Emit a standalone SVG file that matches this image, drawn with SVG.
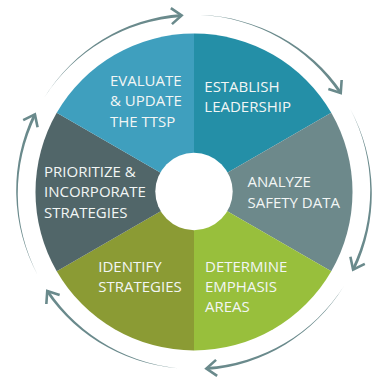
<svg xmlns="http://www.w3.org/2000/svg" xmlns:xlink="http://www.w3.org/1999/xlink" width="373" height="377" viewBox="0 0 373 377">
<style>
.lbl{font-family:"Open Sans","Liberation Sans",sans-serif;font-size:15px;fill:#f2f6f5}
.arc{fill:#6a8a8c}
.head{fill:none;stroke:#6a8a8c;stroke-width:2.6;stroke-linejoin:miter}
</style>
<defs>
<g id="arrow">
<path class="arc" d="M -150.1 -93.8 A 177.75 177.75 0 0 1 -12.45 -178.06 L -12.24 -175.07 A 176.25 176.25 0 0 0 -150.1 -93.8 Z"/>
<path class="head" d="M -23.15 -183.87 L -12.35 -176.57 L -22.05 -167.87"/>
</g>
</defs>
<rect width="373" height="377" fill="#ffffff"/>
<g id="connectors">
<use xlink:href="#arrow" transform="translate(194 192) rotate(0)"/>
<use xlink:href="#arrow" transform="translate(194 192) rotate(60)"/>
<use xlink:href="#arrow" transform="translate(194 192) rotate(120)"/>
<use xlink:href="#arrow" transform="translate(194 192) rotate(180)"/>
<use xlink:href="#arrow" transform="translate(194 192) rotate(240)"/>
<use xlink:href="#arrow" transform="translate(194 192) rotate(300)"/>
</g>
<g id="establish">
<path d="M194 192 L194 33.5 A158.5 158.5 0 0 1 331.27 112.75 Z" fill="#248fa7"/>
<text class="lbl" x="204.3" y="91.7">ESTABLISH</text>
<text class="lbl" x="204.3" y="111.7">LEADERSHIP</text>
</g>
<g id="analyze">
<path d="M194 192 L331.27 112.75 A158.5 158.5 0 0 1 331.27 271.25 Z" fill="#6d898b"/>
<text class="lbl" x="247.5" y="187.3">ANALYZE</text>
<text class="lbl" x="247.5" y="207.7">SAFETY DATA</text>
</g>
<g id="determine">
<path d="M194 192 L331.27 271.25 A158.5 158.5 0 0 1 194 350.5 Z" fill="#98bf3c"/>
<text class="lbl" x="205" y="271.5">DETERMINE</text>
<text class="lbl" x="205" y="291.5">EMPHASIS</text>
<text class="lbl" x="205" y="311.7">AREAS</text>
</g>
<g id="identify">
<path d="M194 192 L194 350.5 A158.5 158.5 0 0 1 56.73 271.25 Z" fill="#8b9b34"/>
<text class="lbl" x="98.3" y="271.5">IDENTIFY</text>
<text class="lbl" x="98.3" y="291.5">STRATEGIES</text>
</g>
<g id="prioritize">
<path d="M194 192 L56.73 271.25 A158.5 158.5 0 0 1 56.73 112.75 Z" fill="#516669"/>
<text class="lbl" x="44" y="176.7">PRIORITIZE &amp;</text>
<text class="lbl" x="44" y="197.3">INCORPORATE</text>
<text class="lbl" x="44" y="217.7">STRATEGIES</text>
</g>
<g id="evaluate">
<path d="M194 192 L56.73 112.75 A158.5 158.5 0 0 1 194 33.5 Z" fill="#3f9fbe"/>
<text class="lbl" x="110" y="85.7">EVALUATE</text>
<text class="lbl" x="110" y="105.9">&amp; UPDATE</text>
<text class="lbl" x="110" y="126.5">THE TTSP</text>
</g>
<circle id="hub" cx="194" cy="191.5" r="38.7" fill="#ffffff"/>
</svg>
